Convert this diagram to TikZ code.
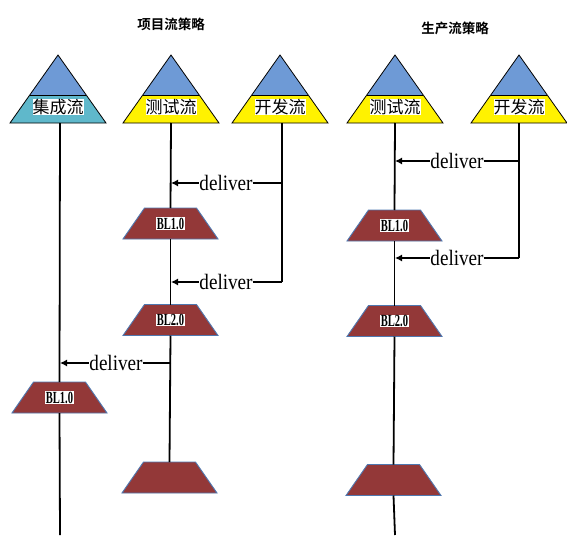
\documentclass[tikz,border=0pt]{standalone}
\usepackage{fontspec}
\setmainfont{Liberation Serif}
\newfontfamily\cjk{Noto Sans CJK SC}
\newfontfamily\cjkb{Noto Sans CJK SC Bold}
\newfontfamily\delfont[FakeStretch=0.87]{Liberation Serif}
\newfontfamily\blfont[FakeStretch=0.62]{Liberation Serif Bold}
\usetikzlibrary{arrows.meta}
\definecolor{topblue}{HTML}{6E9AD6}
\definecolor{teal}{HTML}{5FB8CB}
\definecolor{brick}{HTML}{933838}
\definecolor{edgeblue}{HTML}{4F78B0}
\tikzset{
  stream/.style={line width=1.8pt,black},
  deliv/.style={line width=1.2pt,black,-{Latex[length=7pt,width=7pt]}},
  delivlabel/.style={fill=white,inner sep=0.5pt,font=\delfont\fontsize{22}{22}\selectfont},
  blshape/.style={fill=brick,draw=edgeblue,line width=0.9pt},
  bltext/.style={fill=white,inner sep=0.6pt,font=\blfont\fontsize{17}{17}\selectfont},
  headlabel/.style={fill=white,inner sep=0pt,font=\cjk\fontsize{17}{19}\selectfont},
  title/.style={font=\cjkb\fontsize{13.5}{15}\selectfont}
}
\newcommand{\headtri}[2]{%
  \fill[topblue] (#1,55) -- (#1-28.2,95) -- (#1+28.2,95) -- cycle;
  \fill[#2] (#1-28.2,95) -- (#1+28.2,95) -- (#1+48,123) -- (#1-48,123) -- cycle;
  \draw[line width=0.8pt] (#1,55) -- (#1+48,123) -- (#1-48,123) -- cycle;
  \draw[line width=0.5pt] (#1-28.2,95) -- (#1+28.2,95);
}
% #1 name, #2 cx, #3 cy
\newcommand{\blbox}[3]{%
  \draw[blshape] (#2-26,#3-15.5) -- (#2+26,#3-15.5) -- (#2+47.5,#3+15.5) -- (#2-47.5,#3+15.5) -- cycle;
  \coordinate (#1) at (#2,#3);
  \coordinate (#1-t) at (#2,#3-15.5);
  \coordinate (#1-b) at (#2,#3+15.5);
}
\begin{document}
\begin{tikzpicture}[x=1pt,y=-1pt]
\useasboundingbox[fill=white] (0,0) rectangle (567,535);

% titles
\node[title] (t1) at (171,24) {项目流策略};
\node[title] (t2) at (455,28) {生产流策略};

% header triangles
\headtri{58}{teal}
\headtri{171}{yellow}
\headtri{280}{yellow}
\headtri{395}{yellow}
\headtri{519}{yellow}
\node[headlabel] (h1) at (58,107) {集成流};
\node[headlabel] (h2) at (171,107) {测试流};
\node[headlabel] (h3) at (280,107) {开发流};
\node[headlabel] (h4) at (395,107) {测试流};
\node[headlabel] (h5) at (519,107) {开发流};

% stream line anchor points
\coordinate (a0) at (60,123);
\coordinate (a1) at (60,535);
\coordinate (b0) at (171,123);
\coordinate (c0) at (282,123);
\coordinate (c1) at (282,282);
\coordinate (d0) at (395,123);
\coordinate (d1) at (395,535);
\coordinate (e0) at (519,123);
\coordinate (e1) at (519,258);

% baselines
\blbox{bl1a}{170.5}{223.5}
\blbox{bl2a}{170.5}{320}
\blbox{bl1i}{59.5}{397.5}
\blbox{bl3a}{169.5}{477.5}
\blbox{bl1b}{394.5}{225.5}
\blbox{bl2b}{394.5}{321}
\blbox{bl3b}{393.5}{480}

% stream lines
\draw[stream] (a0) -- (bl1i-t);
\draw[stream] (bl1i-b) -- (a1);
\draw[stream] (b0) -- (bl1a-t);
\draw[stream] (bl1a-b) -- (bl2a-t);
\draw[stream] (bl2a-b) -- (bl3a-t);
\draw[stream] (c0) -- (c1);
\draw[stream] (d0) -- (bl1b-t);
\draw[stream] (bl1b-b) -- (bl2b-t);
\draw[stream] (bl2b-b) -- (bl3b-t);
\draw[stream] (bl3b-b) -- (d1);
\draw[stream] (e0) -- (e1);

% box labels
\node[bltext] (x1) at (bl1a) {BL1.0};
\node[bltext] (x2) at (bl2a) {BL2.0};
\node[bltext] (x3) at (bl1i) {BL1.0};
\node[bltext] (x4) at (bl1b) {BL1.0};
\node[bltext] (x5) at (bl2b) {BL2.0};

% delivers
\coordinate (s1) at (282,183); \coordinate (r1) at (171,183);
\coordinate (s2) at (282,282); \coordinate (r2) at (171,282);
\coordinate (s3) at (171,363); \coordinate (r3) at (60,363);
\coordinate (s4) at (519,161); \coordinate (r4) at (395,161);
\coordinate (s5) at (519,258); \coordinate (r5) at (395,258);
\draw[deliv] (s1) -- (r1);
\draw[deliv] (s2) -- (r2);
\draw[deliv] (s3) -- (r3);
\draw[deliv] (s4) -- (r4);
\draw[deliv] (s5) -- (r5);
\node[delivlabel] (l1) at (226,183) {deliver};
\node[delivlabel] (l2) at (226,282) {deliver};
\node[delivlabel] (l3) at (116,363) {deliver};
\node[delivlabel] (l4) at (457,161) {deliver};
\node[delivlabel] (l5) at (457,258) {deliver};
\end{tikzpicture}
\end{document}
